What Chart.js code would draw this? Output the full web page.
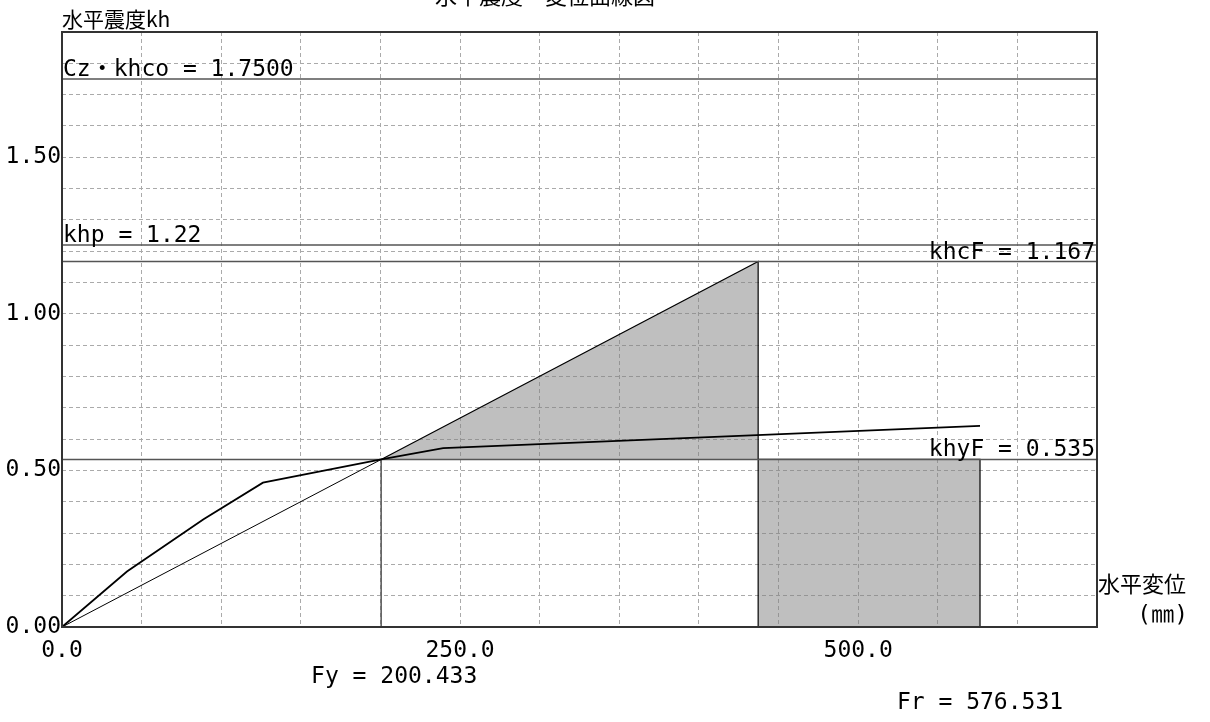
<!DOCTYPE html>
<html lang="ja">
<head>
<meta charset="utf-8">
<title>水平震度－変位曲線図</title>
<script src="https://cdn.jsdelivr.net/npm/chart.js@4/dist/chart.umd.min.js"></script>
<style>
  html, body { margin: 0; padding: 0; background: #fff; overflow: hidden; }
  #wrap { position: relative; width: 1210px; height: 722px; }
</style>
</head>
<body>
<div id="wrap"><canvas id="c"></canvas></div>
<script>
// Horizontal seismic coefficient vs. displacement curve
const curveX = [0, 40.8, 88.9, 126.2, 200.433, 239.4, 576.531];
const curveY = [0, 0.177, 0.344, 0.461, 0.535, 0.571, 0.642];

// characteristic values
const khco = 1.75;    // Cz・khco
const khp = 1.22;
const khcF = 1.167;
const khyF = 0.535;
const Fy = 200.433;
const Fu = 437.2;
const Fr = 576.531;

// axis ranges and tick labels
const xMax = 650, xStep = 50;
const yMax = 1.9, yStep = 0.1;
const xTickValues = [0, 250, 500];
const xTickLabels = ['0.0', '250.0', '500.0'];
const yTickValues = [0, 0.5, 1.0, 1.5];
const yTickLabels = ['0.00', '0.50', '1.00', '1.50'];

// text
const titleText = '水平震度－変位曲線図';
const yAxisTitle = '水平震度kh';
const xAxisTitle = '水平変位';
const xAxisUnit = '(㎜)';
const lblKhco = 'Cz・khco = 1.7500';
const lblKhp = 'khp = 1.22';
const lblKhcF = 'khcF = 1.167';
const lblKhyF = 'khyF = 0.535';
const lblFy = 'Fy = 200.433';
const lblFr = 'Fr = 576.531';

const MONO = '23px "DejaVu Sans Mono", "Noto Sans CJK JP", monospace';
const CJK = '21px "Noto Sans CJK JP", "DejaVu Sans", sans-serif';
const REF = '#555';
const GRID = '#aaaaaa';
const FILL = 'rgba(128,128,128,0.5)';

const pts = (xs, ys) => xs.map((v, i) => ({ x: v, y: ys[i] }));
const hLine = v => [{ x: 0, y: v }, { x: xMax, y: v }];

const lineBase = { showLine: true, pointRadius: 0, pointHoverRadius: 0, tension: 0, fill: false };

const datasets = [
  { ...lineBase, label: 'curve', data: pts(curveX, curveY), borderColor: '#000', borderWidth: 1.8 },
  { ...lineBase, label: 'secant', data: [{ x: 0, y: 0 }, { x: Fy, y: khyF }], borderColor: '#000', borderWidth: 1 },
  { ...lineBase, label: 'khco', data: hLine(khco), borderColor: REF, borderWidth: 1.5 },
  { ...lineBase, label: 'khp', data: hLine(khp), borderColor: REF, borderWidth: 1.5 },
  { ...lineBase, label: 'khcF', data: hLine(khcF), borderColor: REF, borderWidth: 1.5 },
  { ...lineBase, label: 'khyF', data: hLine(khyF), borderColor: REF, borderWidth: 1.5 },
  { ...lineBase, label: 'Fy', data: [{ x: Fy, y: 0 }, { x: Fy, y: khyF }], borderColor: REF, borderWidth: 1.5 },
  { ...lineBase, label: 'triangle',
    data: [{ x: Fy, y: khyF }, { x: Fu, y: khcF }, { x: Fu, y: khyF }],
    borderColor: '#000', borderWidth: 1.2, backgroundColor: FILL, fill: { value: khyF } },
  { ...lineBase, label: 'rect',
    data: [{ x: Fu, y: 0 }, { x: Fu, y: khyF }, { x: Fr, y: khyF }, { x: Fr, y: 0 }],
    borderColor: '#000', borderWidth: 1.2, backgroundColor: FILL, fill: { value: 0 } }
];

const overlay = {
  id: 'overlay',
  afterDatasetsDraw(chart) {
    const { ctx, chartArea: a, scales: { x, y } } = chart;
    ctx.save();
    ctx.strokeStyle = '#333';
    ctx.lineWidth = 2;
    ctx.strokeRect(a.left, a.top, a.right - a.left, a.bottom - a.top);

    ctx.fillStyle = '#000';
    ctx.font = MONO;
    ctx.textBaseline = 'alphabetic';
    ctx.textAlign = 'left';
    ctx.fillText(lblKhco, a.left + 1, y.getPixelForValue(khco) - 3);
    ctx.fillText(lblKhp, a.left + 1, y.getPixelForValue(khp) - 3);
    ctx.textAlign = 'right';
    ctx.fillText(lblKhcF, a.right - 2, y.getPixelForValue(khcF) - 3);
    ctx.fillText(lblKhyF, a.right - 2, y.getPixelForValue(khyF) - 3);

    ctx.textAlign = 'center';
    ctx.textBaseline = 'middle';
    ctx.fillText(lblFy, x.getPixelForValue(Fy) + 13, a.bottom + 50);
    ctx.fillText(lblFr, x.getPixelForValue(Fr), a.bottom + 76);

    ctx.textAlign = 'left';
    ctx.font = '22px "Noto Sans CJK JP", sans-serif';
    ctx.fillText(xAxisTitle, a.right + 1, a.bottom - 43);
    ctx.font = MONO;
    ctx.textAlign = 'right';
    ctx.fillText(xAxisUnit, a.right + 91, a.bottom - 11);

    ctx.textAlign = 'left';
    ctx.textBaseline = 'alphabetic';
    ctx.font = CJK;
    ctx.fillText(yAxisTitle, a.left, a.top - 5);

    ctx.textAlign = 'center';
    ctx.font = '22px "Noto Sans CJK JP", sans-serif';
    ctx.fillText(titleText, 545, 4);
    ctx.restore();
  }
};

const pickLabel = (vals, labels) => v => {
  const i = vals.findIndex(t => Math.abs(t - v) < 1e-6);
  return i >= 0 ? labels[i] : '';
};

const tickFont = { family: '"DejaVu Sans Mono", monospace', size: 23 };

new Chart(document.getElementById('c'), {
  type: 'scatter',
  data: { datasets },
  options: {
    responsive: true,
    maintainAspectRatio: false,
    animation: false,
    events: [],
    layout: { padding: { left: 0, top: 32, right: 113, bottom: 0 } },
    plugins: { legend: { display: false }, tooltip: { enabled: false }, title: { display: false } },
    scales: {
      x: {
        type: 'linear', min: 0, max: xMax,
        afterFit: s => { s.height = 722 - 627; },
        border: { display: false, dash: [4, 3] },
        grid: { color: GRID, lineWidth: 1, drawTicks: false },
        ticks: { stepSize: xStep, autoSkip: false, maxRotation: 0, padding: 10, color: '#000',
                 font: tickFont, callback: pickLabel(xTickValues, xTickLabels) }
      },
      y: {
        type: 'linear', min: 0, max: yMax,
        afterFit: s => { s.width = 62; },
        border: { display: false, dash: [4, 3] },
        grid: { color: GRID, lineWidth: 1, drawTicks: false },
        ticks: { stepSize: yStep, autoSkip: false, padding: 1, color: '#000',
                 font: tickFont, callback: pickLabel(yTickValues, yTickLabels) }
      }
    }
  },
  plugins: [overlay]
});
</script>
</body>
</html>
